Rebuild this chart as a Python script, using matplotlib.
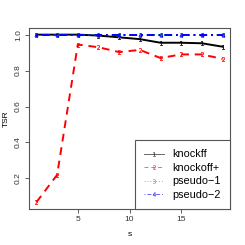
import matplotlib.pyplot as plt
from matplotlib.lines import Line2D

plt.rcParams['font.family'] = ['Liberation Sans', 'DejaVu Sans']

s = [1, 3, 5, 7, 9, 11, 13, 15, 17, 19]
knockoff = [1.0, 1.0, 1.0, 0.995, 0.985, 0.975, 0.955, 0.955, 0.952, 0.933]
knockoff_plus = [0.068, 0.22, 0.945, 0.93, 0.903, 0.915, 0.87, 0.89, 0.89, 0.865]
pseudo1 = [1.0] * 10
pseudo2 = [1.0] * 10
labels = ['knockff', 'knockoff+', 'pseudo\u22121', 'pseudo\u22122']

series = [knockoff, knockoff_plus, pseudo1, pseudo2]
colors = ['black', '#ff0000', '#00cd00', '#0000ff']
styles = ['-', (0, (4, 3)), (0, (1, 2)), (0, (1, 2, 4, 2))]
marks = ['$1$', '$2$', '$3$', '$4$']

fig = plt.figure(figsize=(2.45, 2.45), dpi=100)
ax = fig.add_axes([29 / 245, 36 / 245, 201 / 245, 181 / 245])

for y, c, ls, m in zip(series, colors, styles, marks):
    ax.plot(s, y, color=c, linestyle=ls, linewidth=1.4, marker=m, markersize=3.2,
            markeredgewidth=0.2)

ax.set_xlim(0.28, 19.72)
ax.set_ylim(0.03, 1.037)
ax.set_xticks([5, 10, 15])
ax.set_yticks([0.2, 0.4, 0.6, 0.8, 1.0])
ax.set_yticklabels(['0.2', '0.4', '0.6', '0.8', '1.0'], rotation=90, va='center')
ax.tick_params(labelsize=6, length=3, width=0.6, color='#444444',
               labelcolor='#333333', pad=2)
for sp in ax.spines.values():
    sp.set_color('#555555')
    sp.set_linewidth(0.8)
ax.set_xlabel('s', fontsize=6, labelpad=6)
ax.set_ylabel('TSR', fontsize=6, labelpad=4)

handles = [Line2D([], [], color=c, linestyle=ls, linewidth=0.7, marker=m,
                  markersize=3, markeredgewidth=0.2, alpha=0.6)
           for c, ls, m in zip(colors, styles, marks)]
leg = ax.legend(handles, labels, loc='lower right', fontsize=7.8, frameon=True,
                fancybox=False, edgecolor='#555555', framealpha=1,
                borderaxespad=0, handlelength=1.8, handletextpad=0.8,
                labelspacing=0.32, borderpad=0.85)
leg.get_frame().set_linewidth(0.8)

fig.savefig('out.png', dpi=100)
